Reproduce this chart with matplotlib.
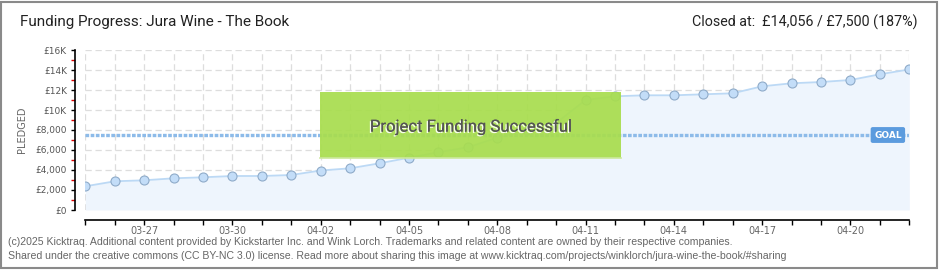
import matplotlib
matplotlib.use("Agg")
import matplotlib.pyplot as plt
import matplotlib.patheffects as pe
from matplotlib.patches import Rectangle
from matplotlib.ticker import FixedLocator

# ---------------- data ----------------
dates = ["03-25", "03-26", "03-27", "03-28", "03-29", "03-30", "03-31",
         "04-01", "04-02", "04-03", "04-04", "04-05", "04-06", "04-07",
         "04-08", "04-09", "04-10", "04-11", "04-12", "04-13", "04-14",
         "04-15", "04-16", "04-17", "04-18", "04-19", "04-20", "04-21",
         "04-22"]
pledged = [2370, 2870, 2970, 3170, 3270, 3400, 3400, 3500, 3950, 4170,
           4670, 5230, 5770, 6270, 7230, 8000, 8700, 11000, 11370, 11470,
           11470, 11570, 11670, 12370, 12670, 12800, 13000, 13570, 14056]
goal = 7500
labelled_dates = ["03-27", "03-30", "04-02", "04-05", "04-08", "04-11",
                  "04-14", "04-17", "04-20"]
y_ticks = [0, 2000, 4000, 6000, 8000, 10000, 12000, 14000, 16000]
y_tick_labels = ["£0", "£2,000", "£4,000", "£6,000", "£8,000", "£10K",
                 "£12K", "£14K", "£16K"]
title = "Funding Progress: Jura Wine - The Book"
status = "Closed at:  £14,056 / £7,500 (187%)"
banner = "Project Funding Successful"
footer1 = ("(c)2025 Kicktraq. Additional content provided by Kickstarter Inc. and Wink Lorch. "
           "Trademarks and related content are owned by their respective companies.")
footer2 = ("Shared under the creative commons (CC BY-NC 3.0) license. Read more about sharing "
           "this image at www.kicktraq.com/projects/winklorch/jura-wine-the-book/#sharing")

# ---------------- figure ----------------
W, H = 940, 270
fig = plt.figure(figsize=(W / 100, H / 100), dpi=100)
fig.patch.set_facecolor("white")

def px(x0, y0, x1, y1):
    return [x0 / W, 1 - y1 / H, (x1 - x0) / W, (y1 - y0) / H]

ax = fig.add_axes(px(85.3, 50, 909.3, 210))
ax.set_facecolor("none")
x = list(range(len(dates)))
ax.set_xlim(0, len(dates) - 1)
ax.set_ylim(0, 16000)

# grid
for v in x:
    ax.axvline(v, color="#dddddd", lw=0.9, ls=(0, (5, 3)), zorder=0)
for v in y_ticks:
    ax.axhline(v, color="#dddddd", lw=0.9, ls=(0, (5, 3)), zorder=0)

# area + line
ax.fill_between(x, pledged, 0, color="#eef5fd", zorder=1, lw=0)
ax.plot(x, pledged, color="#bcd9f5", lw=1.3, zorder=3)
ax.plot(x, pledged, ls="none", marker="o", ms=6.5, mfc="#c3ddf8",
        mec="#8fabc9", mew=0.8, zorder=4)

# goal line
ax.axhline(goal, color="#8dbbe9", lw=2.4, ls=(0, (1.1, 0.45)), zorder=5)
ax.text(0.974, goal, "GOAL", transform=ax.get_yaxis_transform(),
        ha="center", va="center", color="white", fontsize=6.5,
        fontweight="bold", zorder=7,
        bbox=dict(boxstyle="round,pad=0.3,rounding_size=0.15",
                  fc="#5b9bde", ec="#5b9bde"))

# success banner
bx0, bx1 = (320 - 85.3) / 824, (621 - 85.3) / 824
by0, by1 = (210 - 158) / 160, (210 - 92) / 160
ax.add_patch(Rectangle((bx0, by0), bx1 - bx0, by1 - by0,
                       transform=ax.transAxes, fc="#a8dd4e", ec="none",
                       alpha=0.93, zorder=6))
ax.plot([bx0, bx1], [by0, by0], transform=ax.transAxes, color="#cce89c",
        lw=1.2, zorder=6)
ax.text((bx0 + bx1) / 2, (by0 + by1) / 2 - 0.01, banner,
        transform=ax.transAxes, ha="center", va="center",
        fontsize=12, family="Roboto", color="#555555", zorder=8,
        path_effects=[pe.withSimplePatchShadow(offset=(-1, -1),
                                               shadow_rgbFace="white",
                                               alpha=0.9),
                      pe.Normal()])

# spines & ticks
for s in ["top", "right"]:
    ax.spines[s].set_visible(False)
ax.spines["left"].set_position(("outward", 7.2))
ax.spines["bottom"].set_position(("outward", 7.2))
ax.spines["left"].set_color("black")
ax.spines["bottom"].set_color("black")
ax.spines["left"].set_linewidth(1.2)
ax.spines["bottom"].set_linewidth(1.2)

ax.set_yticks(y_ticks)
ax.set_yticklabels(y_tick_labels)
ax.yaxis.set_minor_locator(FixedLocator([1000, 3000, 5000, 7000, 9000,
                                         11000, 13000, 15000]))
ax.tick_params(axis="y", which="major", length=3, width=1, color="black",
               labelsize=6.5, labelcolor="#555555", pad=3)
ax.tick_params(axis="y", which="minor", length=3, width=1, color="#e00000")

ax.set_xticks(x)
ax.set_xticklabels([d if d in labelled_dates else "" for d in dates])
ax.tick_params(axis="x", which="major", length=3.5, width=1, color="black",
               labelsize=7, labelcolor="#666666", pad=1)

fig.text(22 / W, 1 - 130 / H, "PLEDGED", rotation=90, ha="center",
         va="center", fontsize=7, color="#666666")

# titles
fig.text(20 / W, 1 - 22 / H, title, ha="left", va="center", fontsize=11,
         family="Roboto", color="#222222")
fig.text(918 / W, 1 - 22 / H, status, ha="right", va="center", fontsize=10.3,
         family="Roboto", color="#222222")

# footer
fig.text(8 / W, 1 - 242 / H, footer1, ha="left", va="center", fontsize=7.6,
         family="Liberation Sans", color="#666666")
fig.text(8 / W, 1 - 256 / H, footer2, ha="left", va="center", fontsize=7.6,
         family="Liberation Sans", color="#666666")

# outer frame
fig.add_artist(Rectangle((1 / W, 2 / H), 936 / W, 266 / H,
                         transform=fig.transFigure, fill=False,
                         ec="#8a8a8a", lw=1.5))

fig.savefig("out.png", dpi=100)
